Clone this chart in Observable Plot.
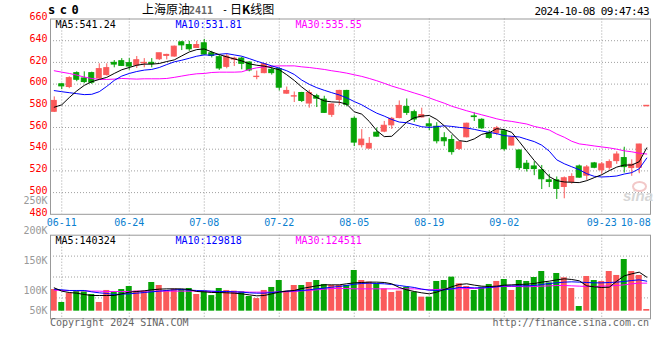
<!DOCTYPE html>
<html><head><meta charset="utf-8">
<script src="https://cdn.jsdelivr.net/npm/d3@7"></script>
<script src="https://cdn.jsdelivr.net/npm/@observablehq/plot@0.6"></script>
<style>
body{margin:0;background:#fff;}
#wrap{position:relative;width:660px;height:360px;overflow:hidden;font-family:"DejaVu Sans Mono",monospace;}
#wrap svg{position:absolute;left:0;top:0;}
.t{position:absolute;white-space:nowrap;line-height:1;}
</style></head><body><div id="wrap">
<div class="t" style="left:48px;top:4px;font-weight:bold;font-size:12px;letter-spacing:4.5px;">sc0</div>
<div class="t" style="left:142px;top:3px;font-family:'Noto Sans CJK SC';font-size:12px;">上海原油</div>
<div class="t" style="left:189px;top:6px;font-size:10px;color:#666;font-weight:bold;">2411</div>
<div class="t" style="left:222px;top:5px;font-size:10px;">-</div>
<div class="t" style="left:230px;top:3px;font-family:'Noto Sans CJK SC';font-size:12px;">日<b>K</b>线图</div>
<div class="t" style="right:11px;top:6px;font-size:11px;letter-spacing:-0.6px;">2024-10-08 09:47:43</div>
<div class="t" style="left:50px;top:318px;font-size:10px;color:#666;">Copyright 2024 SINA.COM</div>
<div class="t" style="right:11px;top:318px;font-size:10px;color:#666;">http://finance.sina.com.cn</div>
<div class="t" style="left:623px;top:188px;font-family:'Liberation Sans';font-style:italic;font-weight:bold;font-size:15px;color:#d6d6d6;">sina</div>
<div class="t" style="left:632px;top:181px;width:11px;height:7px;border:2px solid #f2c8c8;border-radius:50%;"></div>
</div>
<script>
const dates = ["06-07","06-11","06-12","06-13","06-14","06-17","06-18","06-19","06-20","06-21",
"06-24","06-25","06-26","06-27","06-28","07-01","07-02","07-03","07-04","07-05",
"07-08","07-09","07-10","07-11","07-12","07-15","07-16","07-17","07-18","07-19",
"07-22","07-23","07-24","07-25","07-26","07-29","07-30","07-31","08-01","08-02",
"08-05","08-06","08-07","08-08","08-09","08-12","08-13","08-14","08-15","08-16",
"08-19","08-20","08-21","08-22","08-23","08-26","08-27","08-28","08-29","08-30",
"09-02","09-03","09-04","09-05","09-06","09-09","09-10","09-11","09-12","09-13",
"09-18","09-19","09-20","09-23","09-24","09-25","09-26","09-27","09-30","10-08"];

const open = [574.5,599.8,597.3,610.1,605.2,610.1,605.2,608.3,619.6,621.1,
619.3,617.1,619.0,619.6,622.9,626.0,625.4,638.5,636.0,633.3,
637.6,628.4,624.8,615.9,622.6,623.5,619.9,606.5,610.1,613.2,
613.8,591.2,588.5,591.8,582.1,588.8,585.7,571.7,585.4,593.7,
568.0,543.7,540.6,555.2,556.2,562.0,568.7,579.0,574.1,569.3,
562.9,560.7,550.1,548.5,540.3,551.0,570.2,567.1,554.6,554.6,
556.5,543.4,538.8,526.6,524.1,520.5,511.3,511.3,505.2,509.8,
524.1,515.6,526.9,520.5,522.9,529.0,531.8,522.6,522.9,579.5];
const high = [588.2,600.4,606.8,611.3,611.3,611.0,618.7,618.7,621.7,623.5,
623.5,625.4,623.5,623.5,628.4,627.5,635.1,639.4,639.4,639.4,
641.2,630.2,626.6,627.8,624.8,624.8,620.5,612.0,619.0,616.2,
615.0,597.3,592.7,592.4,594.3,590.6,588.8,581.8,594.3,594.3,
569.9,558.0,550.7,559.5,565.6,569.3,584.5,586.3,576.0,577.8,
568.0,564.4,555.2,552.8,546.4,564.0,573.5,568.0,557.1,561.0,
558.3,551.6,539.4,529.6,528.4,525.0,516.8,514.4,514.4,517.4,
525.4,525.0,527.8,527.8,530.2,537.6,541.8,530.2,544.6,580.0];
const low = [573.8,594.9,595.8,602.2,600.4,599.8,604.3,607.4,615.0,616.2,
612.9,614.4,615.0,615.0,621.7,622.3,624.8,630.9,630.2,633.0,
626.6,624.1,612.6,614.1,616.2,613.2,611.3,604.0,609.5,608.3,
593.7,590.6,583.0,583.0,577.8,578.4,572.9,569.3,580.2,579.0,
542.4,541.2,540.0,551.0,555.2,558.3,568.0,571.1,564.7,568.7,
557.1,544.9,542.4,534.5,538.8,550.4,565.6,558.3,549.1,552.5,
538.2,543.0,520.5,519.0,515.6,502.8,504.6,493.7,494.3,507.7,
513.2,511.3,522.0,516.8,520.5,526.0,518.0,515.0,517.4,579.5];
const close = [584.5,597.9,605.5,604.0,601.9,601.3,613.8,614.7,618.0,616.8,
616.2,622.0,619.6,618.4,628.4,626.9,634.5,635.7,632.1,636.0,
627.2,626.0,614.4,625.4,623.5,618.7,612.6,606.8,618.4,610.1,
596.7,593.7,588.8,584.5,591.8,586.6,573.5,581.2,593.7,580.9,
546.1,548.8,544.9,551.6,561.6,568.0,579.9,573.5,567.4,571.4,
561.0,547.3,547.3,537.3,546.4,563.5,569.6,559.2,550.4,559.2,
540.0,551.0,522.6,521.7,521.7,512.3,509.8,503.4,513.2,514.4,
513.8,523.2,522.9,526.0,528.1,535.1,523.5,525.7,544.3,580.0];

const ma5 = [578.7,580.9,587.6,593.7,598.8,602.2,604.3,606.2,609.8,613.2,
615.3,617.4,618.4,618.4,619.0,620.8,622.3,626.0,629.6,631.8,
632.4,629.6,627.2,625.1,623.2,621.4,618.7,617.4,616.5,615.0,
613.2,608.6,603.4,597.3,592.1,587.6,584.5,583.6,583.3,581.5,
574.5,572.3,565.6,557.1,551.6,551.9,558.3,565.0,569.0,570.5,
571.1,567.4,561.6,554.6,547.9,547.0,549.5,553.7,555.2,558.9,
558.0,555.5,547.0,538.2,529.6,522.0,514.7,511.0,509.8,509.5,
509.2,511.0,513.8,516.5,520.2,523.5,525.4,525.4,528.5,541.24];
const ma10 = [594.0,593.0,592.1,591.2,590.3,590.6,593.0,597.9,603.4,607.4,
609.8,611.6,612.9,613.5,615.3,618.0,620.5,622.0,623.8,625.7,
626.9,626.6,627.5,628.1,626.9,625.7,623.5,621.1,619.0,616.8,
614.7,612.3,608.9,603.7,599.8,596.7,594.3,592.1,590.0,587.3,
583.9,580.9,576.9,573.2,570.5,567.4,565.0,564.4,562.6,560.7,
560.1,560.7,561.6,561.0,560.1,559.5,558.3,556.8,555.5,554.3,
552.5,551.9,551.3,549.1,547.0,543.7,538.2,530.2,526.6,523.8,
521.1,517.4,515.0,514.4,514.7,515.3,517.1,518.4,522.0,531.81];
const ma30 = [612.3,611.0,609.8,608.3,606.5,605.2,604.3,604.3,604.6,605.2,
604.9,604.6,604.9,604.9,604.9,605.2,606.2,607.4,608.6,609.5,
609.8,610.7,611.0,611.0,611.0,611.3,613.5,615.0,615.9,616.5,
616.8,616.8,616.8,615.9,615.3,614.4,613.5,612.3,611.3,610.1,
608.6,607.1,605.2,603.1,600.7,598.2,596.1,594.0,591.8,589.7,
587.3,584.8,582.4,579.6,577.5,575.4,573.5,571.7,569.9,568.0,
566.5,565.6,564.4,563.2,561.0,559.5,557.7,554.0,551.0,547.3,
544.9,544.0,543.0,542.1,541.2,540.0,538.5,537.6,536.3,535.55];

// volume, thousands of lots
const volumeK = [102.8,81.2,96.7,100.1,98.9,94.5,81.2,101.2,98.9,102.8,
107.8,100.1,100.1,114.5,109.5,101.2,103.4,102.3,104.5,94.5,
100.1,92.7,104.5,101.2,100.1,98.9,91.2,87.7,101.2,106.2,
117.8,100.1,109.5,109.5,114.5,117.8,111.2,109.5,109.5,109.5,
134.5,117.8,115.1,112.3,103.9,97.8,100.1,106.7,98.4,90.1,
90.1,116.2,117.8,123.4,112.3,107.8,101.2,106.7,111.2,116.2,
119.5,101.2,117.8,116.2,122.8,132.8,113.9,129.5,122.3,104.5,
74.5,124.5,117.8,116.2,132.8,126.2,152.8,132.8,126.2,69.5];
const volMa5 = [105.6,100.1,97.8,96.7,94.5,92.8,92.8,92.8,92.8,95.6,
98.4,99.5,100.6,102.3,103.4,103.9,103.9,103.9,102.8,99.5,
98.9,97.8,97.8,97.3,96.7,95.6,93.9,92.3,92.8,95.6,
98.4,100.1,101.2,104.5,106.7,108.9,110.6,110.6,110.6,112.3,
113.9,114.5,115.1,115.1,114.5,112.3,106.2,102.3,99.5,97.3,
95.6,98.4,102.8,107.3,111.2,112.3,110.1,108.4,107.8,108.4,
110.1,110.6,111.2,111.7,112.8,115.1,116.7,118.9,120.6,119.5,
117.3,108.9,107.3,106.2,106.7,116.7,125.6,128.9,131.7,123.4];
const volMa10 = [103.4,102.3,101.2,101.2,101.2,98.9,97.3,96.2,94.5,95.1,
95.6,96.7,97.8,98.9,100.1,101.2,102.3,102.8,101.7,101.2,
100.6,100.1,99.5,99.5,98.9,98.4,97.3,96.7,96.7,97.8,
98.9,100.1,100.6,101.2,102.3,103.9,105.1,106.7,107.8,109.5,
111.7,112.8,113.4,112.8,112.3,111.2,109.5,107.8,106.2,103.4,
101.7,101.2,102.3,103.9,106.2,106.2,105.6,105.6,106.2,107.3,
108.9,108.9,108.9,108.9,109.5,111.2,112.8,113.9,115.1,115.6,
115.1,114.5,113.9,113.9,114.5,115.1,116.2,117.8,118.9,116.7];
const volMa30 = [101.7,101.2,101.2,100.6,100.6,100.1,100.1,99.5,99.5,99.5,
99.5,100.1,100.1,100.1,100.1,100.1,100.1,100.1,100.1,100.1,
100.1,99.5,99.5,99.5,98.9,98.9,98.4,98.4,98.4,98.4,
98.9,98.9,99.5,100.6,101.2,102.3,103.4,104.5,104.5,104.5,
103.9,103.9,103.9,103.9,103.9,103.9,103.9,103.9,103.9,103.4,
102.3,102.8,103.4,103.9,103.9,104.5,104.5,105.1,106.2,107.3,
107.8,107.8,107.8,107.3,107.8,108.4,108.9,109.5,109.5,108.9,
108.4,107.8,107.8,108.4,108.9,109.5,110.6,112.3,113.4,113.4];

const dateTicks = ["06-11","06-24","07-08","07-22","08-05","08-19","09-02","09-23"];
const lastTick = "10-08";
const priceTicks = [480,500,520,540,560,580,600,620,640,660];
const priceGrid = [500,520,540,560,580,600,620,640];
const priceDomain = [480,660];
const volTicksK = [100,150,200,250];
const volDomainK = [54,193.3];
const volFloorK = 66.7;      // bars rise from here; labelled "50K"
const floorLabel = "50K";
const priceLegend = ["MA5:541.24","MA10:531.81","MA30:535.55"];
const volLegend = ["MA5:140324","MA10:129818","MA30:124511"];

const RED = "#fa5a5a", GREEN = "#06a406", GRID = "#a0a0a0", AXIS = "#999";
const DATE_COLOR = "#0a80d0";
const LEG_COLORS = ["#000000","#0000ff","#ff00ff"];

const rows = dates.map((d,i)=>({d, o:open[i], h:high[i], l:low[i], c:close[i],
  m5:ma5[i], m10:ma10[i], m30:ma30[i], v:volumeK[i], vm5:volMa5[i], vm10:volMa10[i], vm30:volMa30[i],
  col: close[i] >= open[i] ? RED : GREEN}));

const common = {
  width:660, height:360, marginLeft:50, marginRight:10,
  x:{type:"band", domain:dates, padding:0, axis:null},
  color:{type:"identity"},
  style:{fontFamily:"'DejaVu Sans Mono', monospace", fontSize:"10px", background:"transparent"}
};
const dots = {stroke:GRID, strokeDasharray:"1,2"};
const legendMarks = (labels) => labels.map((t,i)=>Plot.text([t], {text:d=>d, frameAnchor:"top-left",
  dx:5 + i*120, dy:6, lineAnchor:"middle", textAnchor:"start", fill:LEG_COLORS[i]}));

const p1 = Plot.plot({
  ...common, marginTop:18.5, marginBottom:146.2,
  y:{domain:priceDomain, axis:null},
  marks:[
    Plot.ruleY(priceGrid, dots),
    Plot.ruleX(dateTicks, {x:d=>d, ...dots}),
    Plot.ruleX(rows, {x:"d", y1:"l", y2:"h", stroke:"col", strokeWidth:1}),
    Plot.barY(rows, {x:"d", y1:"o", y2:"c", fill:"col", stroke:"col", strokeWidth:1, insetLeft:1.25, insetRight:1.25}),
    Plot.line(rows, {x:"d", y:"m30", stroke:LEG_COLORS[2], strokeWidth:1}),
    Plot.line(rows, {x:"d", y:"m10", stroke:LEG_COLORS[1], strokeWidth:1}),
    Plot.line(rows, {x:"d", y:"m5", stroke:LEG_COLORS[0], strokeWidth:1}),
    Plot.frame({stroke:AXIS}),
    Plot.text(priceTicks, {y:d=>d, text:d=>String(d), frameAnchor:"left", textAnchor:"end", dx:-3, dy:-2, fill:"#ff0000"}),
    Plot.text(dateTicks, {x:d=>d, text:d=>d, frameAnchor:"bottom", lineAnchor:"middle", dy:8.5, fill:DATE_COLOR}),
    Plot.text([lastTick], {x:d=>d, text:d=>d, frameAnchor:"bottom", lineAnchor:"middle", textAnchor:"end", dy:8.5, dx:4, fill:DATE_COLOR}),
    ...legendMarks(priceLegend)
  ]
});

const volGrid = [0.25,0.5,0.75].map(q => volDomainK[0] + q*(volDomainK[1]-volDomainK[0]));
const p2 = Plot.plot({
  ...common, marginTop:234.7, marginBottom:41.7,
  y:{domain:volDomainK, axis:null},
  marks:[
    Plot.ruleY(volGrid, dots),
    Plot.ruleX(dateTicks, {x:d=>d, ...dots}),
    Plot.barY(rows, {x:"d", y1:volFloorK, y2:"v", fill:"col", insetLeft:0.75, insetRight:0.75}),
    Plot.line(rows, {x:"d", y:"vm30", stroke:LEG_COLORS[2], strokeWidth:1}),
    Plot.line(rows, {x:"d", y:"vm10", stroke:LEG_COLORS[1], strokeWidth:1}),
    Plot.line(rows, {x:"d", y:"vm5", stroke:LEG_COLORS[0], strokeWidth:1}),
    Plot.frame({stroke:AXIS}),
    Plot.text(volTicksK, {y:d=>d, text:d=>d+"K", frameAnchor:"left", textAnchor:"end", dx:-3, fill:"#999"}),
    Plot.text([floorLabel], {y:volFloorK, text:d=>d, frameAnchor:"left", textAnchor:"end", dx:-3, fill:"#999"}),
    ...legendMarks(volLegend)
  ]
});

const wrap = document.getElementById("wrap");
wrap.prepend(p2);
wrap.prepend(p1);
</script>
</body></html>
